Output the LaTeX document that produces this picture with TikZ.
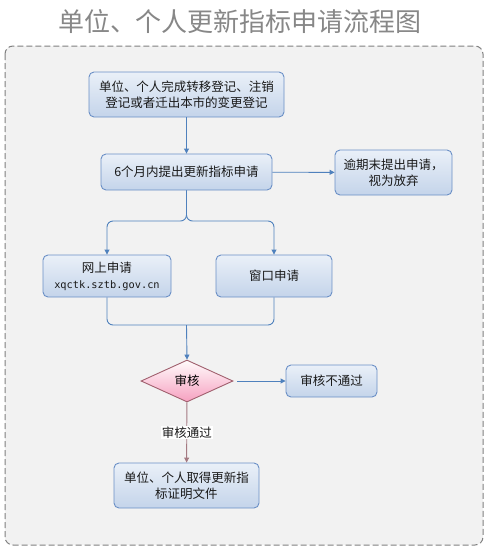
\documentclass[tikz,border=0pt]{standalone}
\usepackage{fontspec}
\setmainfont{Noto Sans CJK SC}
\newfontfamily\urlfont{DejaVu Sans Mono}
\usepackage{xcolor}
\usepackage{tikz}
\usetikzlibrary{shapes.geometric, arrows.meta, positioning, calc}
\definecolor{linkblue}{RGB}{79, 129, 189}
\definecolor{boxborder}{RGB}{106, 143, 198}
\definecolor{boxtop}{RGB}{234, 240, 248}
\definecolor{boxbottom}{RGB}{196, 212, 234}
\definecolor{roseborder}{RGB}{160, 96, 110}
\definecolor{pinkbottom}{RGB}{246, 160, 192}
\definecolor{passline}{RGB}{164, 122, 130}
\definecolor{framebg}{RGB}{242, 242, 242}
\definecolor{frameline}{RGB}{128, 128, 128}
\definecolor{titlegray}{RGB}{135, 135, 135}
\tikzset{
  boxfont/.style={font=\fontsize{12.5}{16}\selectfont},
  procbox/.style={
    rectangle, rounded corners=5pt, draw=boxborder, line width=0.9pt,
    top color=boxtop, bottom color=boxbottom, align=center,
    boxfont, text=black!90, inner sep=2pt
  },
  checkdiamond/.style={
    diamond, draw=roseborder, line width=0.9pt, top color=white!95!pink,
    bottom color=pinkbottom, aspect=2.2, inner sep=0pt,
    minimum width=92pt, minimum height=42pt, boxfont
  },
  groupbox/.style={
    rectangle, rounded corners=8pt, draw=frameline, fill=framebg,
    dash pattern=on 6pt off 3pt, line width=1pt
  },
  flowline/.style={
    draw=linkblue, -{Triangle[length=5pt, width=5pt]}, line width=0.9pt
  },
  joinline/.style={draw=linkblue, line width=0.9pt, rounded corners=6pt},
  passflow/.style={
    draw=passline, -{Triangle[length=5pt, width=5pt]}, line width=0.9pt
  }
}
\begin{document}
\begin{tikzpicture}[x=1pt, y=-1pt]
  \useasboundingbox (0,0) rectangle (486,547);

  % frame and title
  \draw[groupbox] (5,46) rectangle (483,545);
  \node[font=\fontsize{26}{30}\selectfont, text=titlegray] (title) at (240,22) {单位、个人更新指标申请流程图};

  % main column
  \node[procbox, minimum width=195pt, minimum height=45pt] (start) at (186.5,94.5) {
    单位、个人完成转移登记、注销\\
    登记或者迁出本市的变更登记
  };
  \node[procbox, minimum width=171pt, minimum height=36pt] (apply) at (186.5,172) {6个月内提出更新指标申请};
  \node[procbox, minimum width=117pt, minimum height=45pt] (giveup) at (393.5,172.5) {
    逾期末提出申请，\\
    视为放弃
  };

  % two ways to apply
  \node[procbox, minimum width=128pt, minimum height=42pt] (online) at (107,276) {
    网上申请\\
    {\urlfont\fontsize{10.3}{14}\selectfont xqctk.sztb.gov.cn}
  };
  \node[procbox, minimum width=116pt, minimum height=42pt] (window) at (274,276) {窗口申请};

  % review
  \node[checkdiamond] (check) at (187,381) {审核};
  \node[procbox, minimum width=91pt, minimum height=32pt] (reject) at (331.5,381) {审核不通过};
  \node[procbox, minimum width=145pt, minimum height=45pt] (done) at (186.5,485.5) {
    单位、个人取得更新指\\
    标证明文件
  };

  \coordinate (split) at (186.5,221);
  \coordinate (merge) at (186.5,325);

  \draw[flowline] (start) -- (apply);
  \draw[flowline] (apply) -- (giveup);
  \draw[flowline, rounded corners=6pt] (apply.south) -- (split) -| (online.north);
  \draw[flowline, rounded corners=6pt] (apply.south) -- (split) -| (window.north);
  \draw[joinline] (online.south) |- (merge);
  \draw[joinline] (window.south) |- (merge);
  \draw[flowline] (merge) -- (check.north);
  \draw[flowline, shorten <=4pt] (check) -- (reject);
  \draw[passflow] (check) -- node[pos=0.5, fill=white, inner sep=1pt, boxfont, text=black!90] (passlabel) {审核通过} (done);
\end{tikzpicture}
\end{document}
